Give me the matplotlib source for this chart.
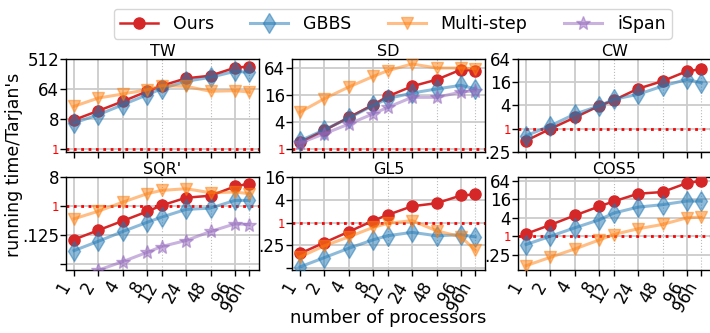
import numpy as np
import matplotlib
matplotlib.use('Agg')
import matplotlib.pyplot as plt

# processor counts (96h = 96 cores with hyperthreading)
procs = ['1', '2', '4', '8', '12', '24', '48', '96', '96h']
proc_pos = [1, 2, 4, 8, 12, 24, 48, 96, 144]
major_procs = ['1', '2', '4', '8', '24', '96']

panels = ['TW', 'SD', 'CW', "SQR'", 'GL5', 'COS5']

# running time / Tarjan's
ours = {
    'TW':   [7.5, 14.2, 27.3, 54.6, 80.4, 134, 161, 280, 304],
    'SD':   [1.39, 2.57, 5.03, 9.65, 14.8, 24.9, 35, 58.9, 55.7],
    'CW':   [0.49, 1.0, 1.96, 3.92, 5.46, 10.9, 17.1, 30.9, 34.8],
    "SQR'": [0.0915, 0.179, 0.349, 0.683, 1.05, 1.82, 2.1, 4.08, 4.96],
    'GL5':  [0.154, 0.299, 0.578, 1.13, 1.6, 2.71, 3.25, 5.21, 5.54],
    'COS5': [1.21, 2.38, 4.82, 9.51, 13.8, 24.6, 27.9, 54.9, 64],
}
gbbs = {
    'TW':   [6.1, 10.8, 21.6, 43.1, 65.3, 109, 144, 218, 204],
    'SD':   [1.5, 2.66, 4.86, 9.32, 13.2, 17.6, 21.7, 26.2, 21.7],
    'CW':   [0.66, 1.2, 2.4, 3.92, 5.78, 7.78, 12.7, 18.9, 15.5],
    "SQR'": [0.0415, 0.0814, 0.163, 0.316, 0.454, 0.79, 0.865, 1.5, 1.5],
    'GL5':  [0.068, 0.12, 0.212, 0.354, 0.451, 0.555, 0.451, 0.48, 0.423],
    'COS5': [0.543, 1.01, 1.91, 3.48, 5.74, 9.0, 10.8, 14.2, 14.2],
}
multistep = {
    'TW':   [19.3, 34.3, 45.3, 61, 80.4, 77.2, 54.6, 56.9, 52],
    'SD':   [6.59, 13.2, 24.1, 41.6, 55.7, 78.8, 64, 64, 61.8],
    "SQR'": [0.403, 0.697, 1.33, 2.43, 3.07, 3.46, 2.6, 2.73, 2.43],
    'GL5':  [0.125, 0.245, 0.423, 0.753, 0.959, 1.13, 0.611, 0.423, 0.188],
    'COS5': [0.111, 0.209, 0.39, 0.768, 1.15, 1.77, 2.45, 4.03, 4.26],
}
ispan = {
    'SD':   [1.34, 2.16, 3.56, 6.06, 8.4, 14.1, 14.1, 18.5, 19.8],
    "SQR'": [0.0051, 0.0103, 0.019, 0.0369, 0.0556, 0.0854, 0.163, 0.281, 0.268],
}

# y ticks and labels per panel
yticks = {
    'TW':   [1, 8, 64, 512],
    'SD':   [1, 4, 16, 64],
    'CW':   [0.25, 1, 4, 16, 64],
    "SQR'": [1 / 64, 1 / 8, 1, 8],
    'GL5':  [1 / 16, 0.25, 1, 4, 16],
    'COS5': [0.25, 1, 4, 16, 64],
}
ytick_labels = {
    'TW':   ['1', '8', '64', '512'],
    'SD':   ['1', '4', '16', '64'],
    'CW':   ['.25', '1', '4', '16', '64'],
    "SQR'": ['', '.125', '1', '8'],
    'GL5':  ['', '.25', '1', '4', '16'],
    'COS5': ['.25', '1', '4', '16', '64'],
}
# log2 limits
ylims = {
    'TW': (-0.3, 9), 'SD': (-0.25, 6.67), 'CW': (-2, 6),
    "SQR'": (-6.59, 3), 'GL5': (-4.15, 4), 'COS5': (-3.64, 6.43),
}

W, H = 710, 333
fig = plt.figure(figsize=(W / 100, H / 100), dpi=100)

lefts = [66, 292, 518]
tops = [59, 177]
aw, ah = 193, 93

x = np.log2(proc_pos)
xmaj = [x[procs.index(p)] for p in major_procs]
xmin_ = [x[i] for i, p in enumerate(procs) if p not in major_procs]
lab_min = [p for p in procs if p not in major_procs]

styles = [
    ('Ours', ours, dict(color='#d62728', marker='o', ms=8, lw=1.8, zorder=3)),
    ('GBBS', gbbs, dict(color='#1f77b4', marker='d', ms=10, lw=2.2, alpha=0.5, zorder=4)),
    ('Multi-step', multistep, dict(color='#ff7f0e', marker='v', ms=9, lw=2.2, alpha=0.5, zorder=4)),
    ('iSpan', ispan, dict(color='#9467bd', marker='*', ms=10, lw=2.2, alpha=0.5, zorder=4)),
]

handles = {}
for i, name in enumerate(panels):
    r, c = divmod(i, 3)
    ax = fig.add_axes([lefts[c] / W, 1 - (tops[r] + ah) / H, aw / W, ah / H])
    ax.set_yscale('log', base=2)
    for label, data, kw in styles:
        if name in data:
            ln, = ax.plot(x, data[name], label=label, **kw)
            handles.setdefault(label, ln)
    ax.axhline(1, color='red', ls=':', lw=2, zorder=2)

    ax.set_xlim(-0.33, x[-1] + 0.4)
    lo, hi = ylims[name]
    ax.set_ylim(2 ** lo, 2 ** hi)

    ax.set_xticks(xmaj)
    ax.set_xticks(xmin_, minor=True)
    if r == 1:
        ax.set_xticklabels(major_procs, rotation=60, ha='right', fontsize=12)
        ax.set_xticklabels(lab_min, minor=True, rotation=60, ha='right', fontsize=12)
    else:
        ax.set_xticklabels([])
        ax.set_xticklabels([], minor=True)
    ax.tick_params(axis='x', which='both', length=4, width=1, pad=2)

    ax.set_yticks(yticks[name])
    ax.set_yticklabels(ytick_labels[name], fontsize=12)
    ax.yaxis.set_minor_locator(matplotlib.ticker.NullLocator())
    ax.tick_params(axis='y', length=4, width=1, pad=1)
    for t in ax.get_yticklabels():
        if t.get_text() == '1':
            t.set_color('red')
            t.set_fontsize(8.5)

    ax.grid(which='major', color='#cccccc', lw=1.3, ls='-')
    ax.grid(which='minor', axis='x', color='#bbbbbb', lw=0.8, ls=':')
    ax.set_axisbelow(True)
    for s in ax.spines.values():
        s.set_linewidth(1.0)
    ax.set_title(name, fontsize=11.5, pad=2)

names = ['Ours', 'GBBS', 'Multi-step', 'iSpan']
fig.legend([handles[n] for n in names], names, loc='upper center',
           bbox_to_anchor=(0.553, 1.0), ncol=4, fontsize=12.5, frameon=True,
           handlelength=2.2, handletextpad=0.85, columnspacing=2.1,
           borderpad=0.35)

fig.text(14 / W, 1 - 165 / H, "running time/Tarjan's", rotation=90,
         ha='center', va='center', fontsize=12.5)
fig.text(388 / W, 1 - 318 / H, 'number of processors', ha='center',
         va='center', fontsize=13)

fig.savefig('out.png', dpi=100)
